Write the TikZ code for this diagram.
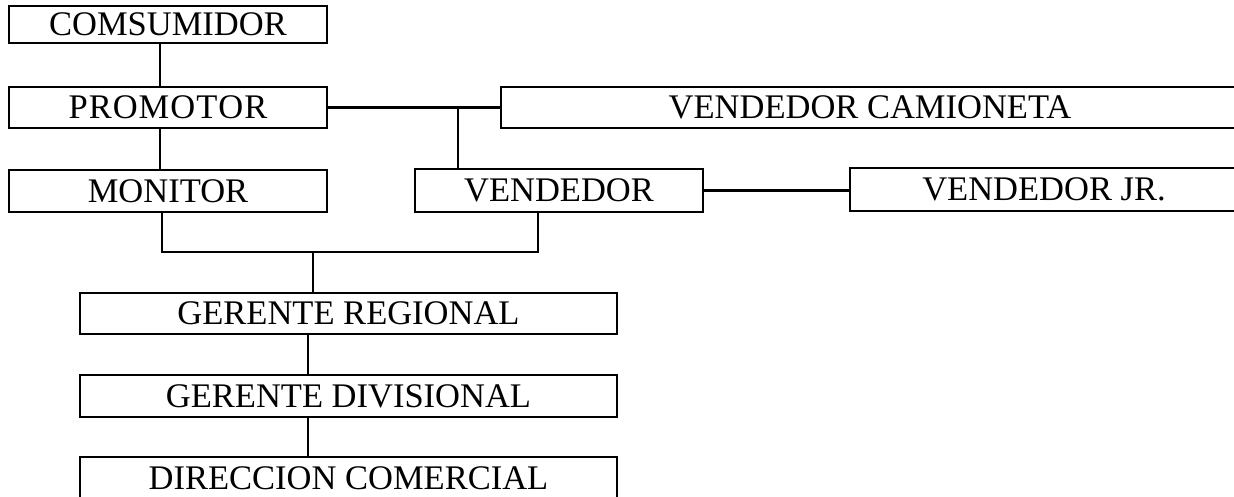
\documentclass[tikz,border=0pt]{standalone}
\usepackage{fontspec}
\setmainfont{Liberation Serif}
\begin{document}
\begin{tikzpicture}[x=1pt,y=-1pt,
  orgbox/.style={draw, line width=2.6pt, inner sep=0pt, text height=22.8pt, text depth=0pt,
    font=\fontsize{34.5}{40}\selectfont},
  link/.style={line width=2.6pt}]
\useasboundingbox (0,0) rectangle (1234,497);
\fill[white] (0,0) rectangle (1234,497);
\clip (0,0) rectangle (1234,497);
% boxes
\node[orgbox, minimum width=318pt, minimum height=37pt] (c) at (168,24.5) {COMSUMIDOR};
\node[orgbox, minimum width=318pt, minimum height=41pt] (p) at (168,107.5) {P\kern1ptR\kern1ptO\kern1ptM\kern1ptO\kern1ptT\kern1ptO\kern1ptR};
\node[orgbox, minimum width=318pt, minimum height=42pt] (m) at (168,191) {MONITOR};
\node[orgbox, minimum width=738pt, minimum height=41pt] (vc) at (870,107.5) {VENDEDOR CAMIONETA};
\node[orgbox, minimum width=288pt, minimum height=43pt] (v) at (559,190.5) {VENDEDOR};
\node[orgbox, minimum width=388pt, minimum height=43pt] (vj) at (1044,189.5) {VENDEDOR JR.};
\node[orgbox, minimum width=537pt, minimum height=41pt] (gr) at (348.5,313.5) {GERENTE REGIONAL};
\node[orgbox, minimum width=537pt, minimum height=42pt] (gd) at (348.5,396) {GERENTE DIVISIONAL};
\node[orgbox, minimum width=537pt, minimum height=42pt] (dc) at (348.5,478) {DIRECCION COMERCIAL};
% helper coordinates
\coordinate (xa) at (160,0);
\coordinate (jv) at (458,0);
\coordinate (bl) at (162,252);
\coordinate (br) at (538,252);
\coordinate (bm) at (313,252);
\coordinate (xg) at (308,0);
% connectors
\draw[link] (c.south -| xa) -- (p.north -| xa);
\draw[link] (p.south -| xa) -- (m.north -| xa);
\draw[link] (p.east) -- (vc.west);
\draw[link] (p.east -| jv) -- (v.north -| jv);
\draw[link] (v.east) -- (v.east -| vj.west);
\draw[link] (m.south -| bl) -- (bl) -- (br) -- (v.south -| br);
\draw[link] (bm) -- (gr.north -| bm);
\draw[link] (gr.south -| xg) -- (gd.north -| xg);
\draw[link] (gd.south -| xg) -- (dc.north -| xg);
\end{tikzpicture}
\end{document}
